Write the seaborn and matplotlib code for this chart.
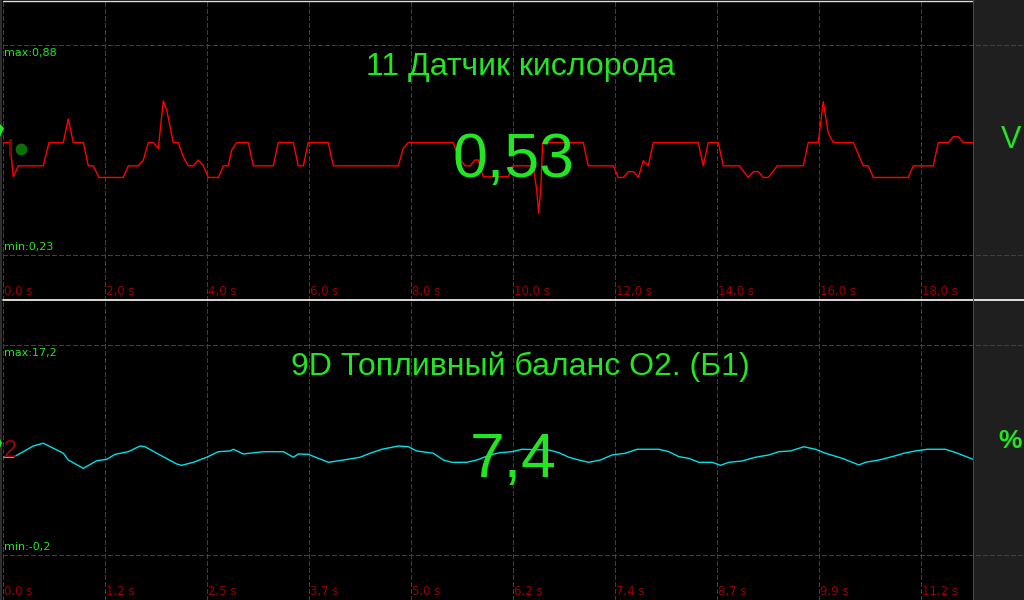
import matplotlib
matplotlib.use("Agg")
import matplotlib.pyplot as plt
from matplotlib.lines import Line2D
from matplotlib.patches import Rectangle, Polygon
import pandas as pd
import seaborn as sns

# --- top channel: oxygen sensor, volts vs seconds
o2_time = [0.0, 0.137, 0.202, 0.300, 0.790, 0.902, 1.182, 1.280, 1.378, 1.575,
           1.673, 1.771, 1.882, 2.359, 2.457, 2.653, 2.751, 2.849, 2.947, 3.045,
           3.143, 3.210, 3.339, 3.437, 3.535, 3.633, 3.731, 3.829, 3.927, 4.025,
           4.222, 4.320, 4.418, 4.484, 4.582, 4.810, 4.908, 5.300, 5.398, 5.692,
           5.790, 5.888, 5.986, 6.378, 6.476, 7.751, 7.849, 7.947, 8.829, 8.927,
           9.059, 9.157, 9.255, 9.320, 9.418, 9.908, 10.006, 10.398, 10.465, 10.504,
           10.543, 10.582, 11.378, 11.476, 11.967, 12.065, 12.163, 12.261, 12.359, 12.457,
           12.555, 12.653, 12.751, 13.633, 13.731, 13.829, 14.025, 14.124, 14.437, 14.614,
           14.712, 14.810, 14.908, 15.006, 15.182, 15.692, 15.790, 15.986, 16.084, 16.182,
           16.280, 16.673, 16.869, 16.967, 17.065, 17.751, 17.849, 18.241, 18.339, 18.535,
           18.633, 18.731, 18.829, 19.02]
o2_volt = [0.578, 0.578, 0.472, 0.506, 0.506, 0.578, 0.578, 0.651, 0.578, 0.578,
           0.506, 0.506, 0.470, 0.470, 0.506, 0.506, 0.524, 0.578, 0.578, 0.560,
           0.707, 0.679, 0.578, 0.578, 0.534, 0.506, 0.506, 0.524, 0.506, 0.470,
           0.470, 0.506, 0.506, 0.555, 0.578, 0.578, 0.506, 0.506, 0.578, 0.578,
           0.506, 0.506, 0.578, 0.578, 0.506, 0.506, 0.560, 0.578, 0.578, 0.534,
           0.506, 0.506, 0.524, 0.524, 0.472, 0.472, 0.506, 0.506, 0.431, 0.359,
           0.431, 0.578, 0.578, 0.506, 0.506, 0.470, 0.470, 0.488, 0.488, 0.470,
           0.522, 0.506, 0.578, 0.578, 0.506, 0.578, 0.578, 0.506, 0.506, 0.470,
           0.488, 0.488, 0.470, 0.470, 0.506, 0.506, 0.578, 0.578, 0.705, 0.607,
           0.578, 0.578, 0.506, 0.506, 0.470, 0.470, 0.506, 0.506, 0.578, 0.578,
           0.596, 0.596, 0.578, 0.578]
o2_title = "11 Датчик кислорода"
o2_value = "0,53"
o2_unit = "V"
o2_max, o2_min = 0.88, 0.23
o2_max_label, o2_min_label = "max:0,88", "min:0,23"
o2_ticks = [0, 2, 4, 6, 8, 10, 12, 14, 16, 18]
o2_tick_labels = ["0,0 s", "2,0 s", "4,0 s", "6,0 s", "8,0 s", "10,0 s",
                  "12,0 s", "14,0 s", "16,0 s", "18,0 s"]
o2_end = 19.02
o2_cursor_t, o2_cursor_v = 0.353, 0.558

# --- bottom channel: fuel trim, percent vs seconds
fuel_time = [0.0, 0.125, 0.368, 0.490, 0.733, 0.794, 0.976, 1.139, 1.261, 1.362,
             1.523, 1.666, 1.726, 1.869, 2.112, 2.172, 2.313, 2.476, 2.617, 2.760,
             2.800, 2.921, 3.164, 3.408, 3.529, 3.590, 3.712, 3.955, 4.137, 4.340,
             4.462, 4.604, 4.806, 4.927, 5.029, 5.231, 5.353, 5.455, 5.637, 5.759,
             5.920, 6.042, 6.188, 6.310, 6.634, 6.756, 6.877, 6.999, 7.120, 7.261,
             7.404, 7.565, 7.708, 7.971, 8.093, 8.214, 8.336, 8.458, 8.619, 8.720,
             8.822, 8.984, 9.146, 9.309, 9.430, 9.571, 9.734, 9.875, 9.997, 10.200,
             10.403, 10.483, 10.646, 10.808, 10.950, 11.091, 11.233, 11.455, 11.582, 11.79]
fuel_pct = [7.90, 7.90, 8.83, 9.06, 8.23, 7.67, 6.98, 7.61, 7.73, 8.14,
            8.36, 8.83, 8.77, 8.23, 7.34, 7.23, 7.48, 7.90, 8.36, 8.42,
            8.56, 8.17, 8.36, 8.36, 7.90, 8.17, 8.14, 7.48, 7.67, 7.90,
            8.23, 8.56, 8.83, 8.77, 8.42, 8.23, 7.67, 7.48, 7.48, 7.67,
            8.09, 8.28, 8.36, 8.56, 8.50, 8.28, 7.90, 7.67, 7.48, 7.67,
            8.09, 8.23, 8.56, 8.56, 8.36, 7.95, 7.81, 7.48, 7.48, 7.23,
            7.48, 7.59, 7.90, 8.09, 8.36, 8.42, 8.77, 8.56, 8.23, 7.81,
            7.26, 7.48, 7.67, 7.95, 8.23, 8.42, 8.56, 8.56, 8.28, 7.73]
fuel_title = "9D Топливный баланс О2. (Б1)"
fuel_value = "7,4"
fuel_unit = "%"
fuel_max, fuel_min = 17.2, -0.2
fuel_max_label, fuel_min_label = "max:17,2", "min:-0,2"
fuel_ticks = [0, 1.24, 2.48, 3.72, 4.96, 6.2, 7.44, 8.68, 9.92, 11.16]
fuel_tick_labels = ["0,0 s", "1,2 s", "2,5 s", "3,7 s", "5,0 s", "6,2 s",
                    "7,4 s", "8,7 s", "9,9 s", "11,2 s"]
fuel_end = 11.79

sns.set_style("dark", {"axes.facecolor": "black", "figure.facecolor": "black"})

GRID = "#a01616"
TICKC = "#9a0000"
GREEN = "#22e622"
PANEL = "#1f1f1f"
BIG = ["Liberation Sans", "DejaVu Sans"]
SMALL = ["DejaVu Sans"]

fig = plt.figure(figsize=(10.24, 6), dpi=100, facecolor="black")
ax_top = fig.add_axes([3 / 1024, 0.5, 1021 / 1024, 0.5])
ax_bot = fig.add_axes([3 / 1024, 0.0, 1021 / 1024, 0.5])


def draw_panel(ax, t, v, color, ticks, labels, t_end, vmax, vmin, lab_max, lab_min,
               title, value, unit, unit_size, unit_weight, unit_x):
    span = (vmax - vmin) / 0.7
    right = t_end * 1021 / 970
    ax.set_xlim(0, right)
    ax.set_ylim(vmin - 0.15 * span, vmax + 0.15 * span)
    ax.axis("off")
    ax.axvspan(t_end, right, color=PANEL, lw=0, zorder=0)
    xt = ax.get_xaxis_transform()
    for tk, lb in zip(ticks, labels):
        ax.axvline(tk, color=GRID, lw=0.7, ls=(0, (5, 3)), zorder=1,
                   clip_on=False, antialiased=False)
        ax.annotate(lb, xy=(tk, 0), xycoords=xt, xytext=(1, 2), textcoords="offset pixels",
                    ha="left", va="bottom", color=TICKC, fontsize=8.5, family=SMALL)
    for lvl in (vmax, vmin):
        ax.axhline(lvl, color=GRID, lw=0.7, ls=(0, (5, 3)), zorder=1, antialiased=False)
    ax.annotate(lab_max, xy=(0, vmax), xytext=(1, -3), textcoords="offset pixels",
                ha="left", va="top", color=GREEN, fontsize=8, family=SMALL)
    ax.annotate(lab_min, xy=(0, vmin), xytext=(1, 3), textcoords="offset pixels",
                ha="left", va="bottom", color=GREEN, fontsize=8, family=SMALL)
    df = pd.DataFrame({"t": t, "v": v})
    sns.lineplot(data=df, x="t", y="v", ax=ax, color=color, lw=1.0,
                 estimator=None, sort=False, zorder=3)
    ax.text(0.5064, 0.75, title, transform=ax.transAxes, ha="center", va="baseline",
            color=GREEN, fontsize=23, family=BIG, zorder=5)
    ax.text(0.5, 0.41, value, transform=ax.transAxes, ha="center", va="baseline",
            color=GREEN, fontsize=45, family=BIG, zorder=5)
    ax.text(unit_x, 0.507, unit, transform=ax.transAxes, ha="left", va="baseline",
            color=GREEN, fontsize=unit_size, family=BIG, fontweight=unit_weight, zorder=5)


draw_panel(ax_top, o2_time, o2_volt, "#ff0000", o2_ticks, o2_tick_labels, o2_end,
           o2_max, o2_min, o2_max_label, o2_min_label, o2_title, o2_value, o2_unit,
           22, "normal", 0.977)
draw_panel(ax_bot, fuel_time, fuel_pct, "#00e0e8", fuel_ticks, fuel_tick_labels, fuel_end,
           fuel_max, fuel_min, fuel_max_label, fuel_min_label, fuel_title, fuel_value,
           fuel_unit, 19, "bold", 0.975)

# cursor marks at left edge
ax_top.plot([o2_cursor_t], [o2_cursor_v], "o", color="#0b6e0b", ms=7.5, zorder=6)
ax_top.plot([0.137, 0.137], [0.586, 0.540], color="#8b0000", lw=2.2, zorder=6)
ax_bot.annotate("2", xy=(0, fuel_pct[0]), xytext=(1, 0), textcoords="offset pixels",
                ha="left", va="baseline", color="#a00000", fontsize=17, family=BIG, zorder=6)

# frame pieces in pixel coordinates
fig.add_artist(Rectangle((0, 0), 2, 600, transform=None, color="#2e2e2e", lw=0))
fig.add_artist(Polygon([(0, 476), (4, 472), (0, 463)], closed=True, transform=None,
                       color=GREEN, lw=0))
fig.add_artist(Polygon([(0, 161), (2, 157), (0, 152)], closed=True, transform=None,
                       color=GREEN, lw=0))
fig.add_artist(Line2D([3, 1024], [300, 300], transform=None, color="white", lw=1.2))
fig.add_artist(Line2D([3, 973], [599.5, 599.5], transform=None, color="#dddddd", lw=1.0))
fig.add_artist(Line2D([973.5, 973.5], [0, 600], transform=None, color="#ff0000",
                      lw=0.72, snap=False))

fig.savefig("out.png", dpi=100, facecolor="black")
